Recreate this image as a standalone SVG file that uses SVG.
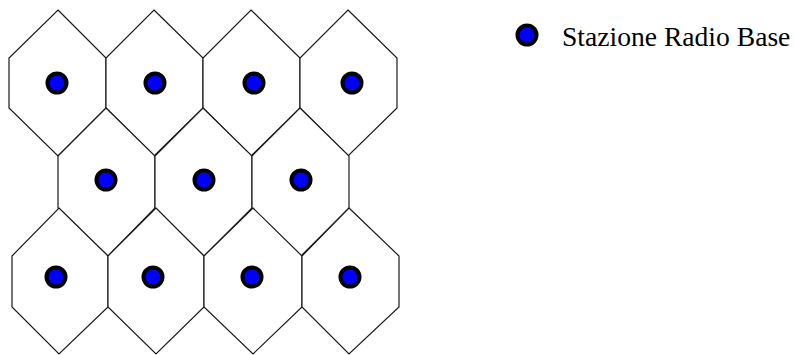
<svg xmlns="http://www.w3.org/2000/svg" width="795" height="355" viewBox="0 0 795 355">
<style>
.cell{fill:#fff;stroke:#1a1a1a;stroke-width:1.2;stroke-linejoin:miter}
.bs{fill:#0000ff;stroke:#000;stroke-width:4}
.lbl{font-family:"Liberation Serif","Times New Roman",serif;font-size:27.6px;fill:#000}
</style>
<rect width="795" height="355" fill="#fff"/>
<g id="cellsA">
<g id="a1"><polygon class="cell" points="58,10 106,58 106,108 58,156 9,108 9,58"/><circle class="bs" cx="57" cy="83" r="9.5"/></g>
<g id="a2"><polygon class="cell" points="154,10 203,58 203,108 154,156 106,108 106,58"/><circle class="bs" cx="155" cy="83" r="9.5"/></g>
<g id="a3"><polygon class="cell" points="251,10 300,58 300,108 251,156 203,108 203,58"/><circle class="bs" cx="254" cy="83" r="9.5"/></g>
<g id="a4"><polygon class="cell" points="348,10 397,58 397,108 348,156 300,108 300,58"/><circle class="bs" cx="352" cy="83" r="9.5"/></g>
</g>
<g id="cellsB">
<g id="b1"><polygon class="cell" points="106,108 155,156 155,208 108,256 58,208 58,156"/><circle class="bs" cx="106" cy="180" r="9.5"/></g>
<g id="b2"><polygon class="cell" points="203,108 252,156 252,208 204,256 155,208 155,156"/><circle class="bs" cx="204" cy="180" r="9.5"/></g>
<g id="b3"><polygon class="cell" points="300,108 349,156 349,208 301,256 252,208 252,156"/><circle class="bs" cx="301" cy="180" r="9.5"/></g>
</g>
<g id="cellsC">
<g id="c1"><polygon class="cell" points="59,208 108,256 108,307 59,354 12,307 12,256"/><circle class="bs" cx="56" cy="277" r="9.5"/></g>
<g id="c2"><polygon class="cell" points="156,208 204,256 204,307 156,354 108,307 108,256"/><circle class="bs" cx="153" cy="277" r="9.5"/></g>
<g id="c3"><polygon class="cell" points="253,208 302,256 302,307 253,354 204,307 204,256"/><circle class="bs" cx="252" cy="277" r="9.5"/></g>
<g id="c4"><polygon class="cell" points="349,208 399,256 399,307 349,354 302,307 302,256"/><circle class="bs" cx="350" cy="277" r="9.5"/></g>
</g>
<g id="connectors"></g>
<g id="legend">
<circle class="bs" cx="527" cy="35" r="9.5"/>
<text class="lbl" x="562" y="46">Stazione Radio Base</text>
</g>
</svg>
